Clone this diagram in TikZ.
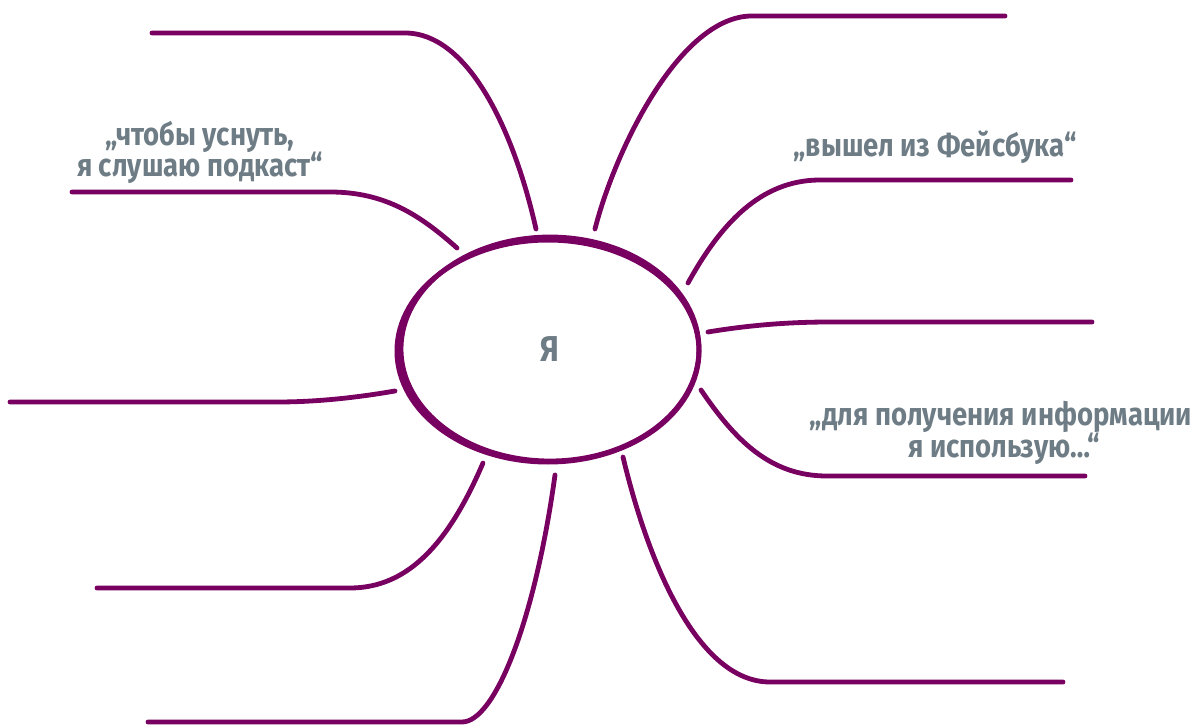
\documentclass[tikz,border=0pt]{standalone}
\usepackage{fontspec}
\newfontfamily\lbl[FakeStretch=0.86]{Fira Sans}
\usetikzlibrary{shapes.geometric}
\definecolor{plum}{HTML}{780060}
\definecolor{slate}{HTML}{6E7C85}
\begin{document}
\begin{tikzpicture}[x=1pt,y=-1pt,
  branch/.style={draw=plum, line width=4.8pt, line cap=round},
  lab/.style={text=slate, font=\lbl\bfseries\fontsize{32}{32}\selectfont, inner sep=0pt, anchor=base},
  hub/.style={ellipse, draw=plum, line width=4.8pt, minimum width=298pt, minimum height=224pt, inner sep=0pt,
    text=slate, font=\lbl\bfseries\fontsize{36}{36}\selectfont}]
\useasboundingbox (0,0) rectangle (1197,727);

% centre
\node[hub] (me) at (550,349) {Я};
\draw[plum, line width=5pt] ([shift={(-2,2)}]me.center) ellipse [x radius=151, y radius=111];

% branch end points
\coordinate (s1) at (536,229);  \coordinate (e1) at (152,33);
\coordinate (s2) at (595,229);  \coordinate (e2) at (1005,16);
\coordinate (s3) at (457,248);  \coordinate (e3) at (72,192);
\coordinate (s4) at (688,283);  \coordinate (e4) at (1071,180);
\coordinate (s5) at (708,332);  \coordinate (e5) at (1092,322);
\coordinate (s6) at (701,390);  \coordinate (e6) at (1085,476);
\coordinate (s7) at (395,391);  \coordinate (e7) at (10,402);
\coordinate (s8) at (483,463);  \coordinate (e8) at (97,588);
\coordinate (s9) at (555,475);  \coordinate (e9) at (148,722);
\coordinate (s10) at (623,457); \coordinate (e10) at (1063,682);

% branches
\draw[branch] (s1) .. controls (515,135) and (470,33) .. (405,33) -- (e1);
\draw[branch] (s2) .. controls (615,150) and (680,16) .. (752,16) -- (e2);
\draw[branch] (s3) .. controls (420,215) and (385,192) .. (330,192) -- (e3);
\draw[branch] (s4) .. controls (720,225) and (760,180) .. (820,180) -- (e4);
\draw[branch] (s5) .. controls (750,325) and (790,322) .. (830,322) -- (e5);
\draw[branch] (s6) .. controls (735,440) and (770,476) .. (827,476) -- (e6);
\draw[branch] (s7) .. controls (360,397) and (320,402) .. (277,402) -- (e7);
\draw[branch] (s8) .. controls (450,540) and (410,588) .. (350,588) -- (e8);
\draw[branch] (s9) .. controls (535,620) and (495,722) .. (462,722) -- (e9);
\draw[branch] (s10) .. controls (650,570) and (700,682) .. (770,682) -- (e10);

% labels
\node[lab] (t1a) at (200,146) {„чтобы уснуть,};
\node[lab] (t1b) at (200,177) {я слушаю подкаст“};
\node[lab] (t2) at (935,157) {„вышел из Фейсбука“};
\node[lab] (t3a) at (1001,425) {„для получения информации};
\node[lab] (t3b) at (1004,457) {я использую…“};
\end{tikzpicture}
\end{document}
